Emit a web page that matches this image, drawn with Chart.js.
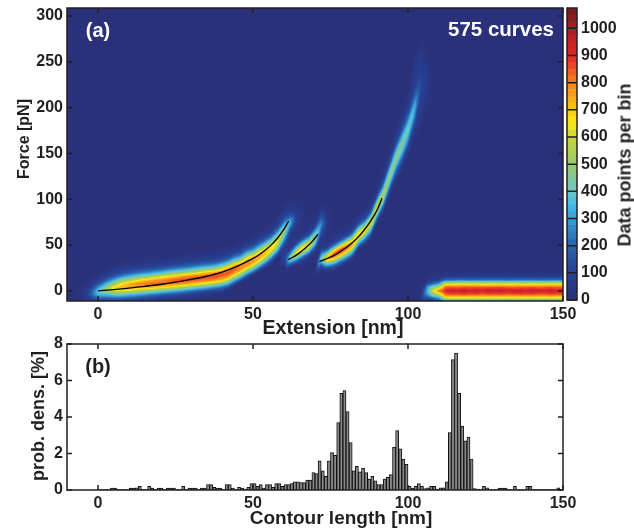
<!DOCTYPE html>
<html>
<head>
<meta charset="utf-8">
<title>Force extension</title>
<script src="https://cdn.jsdelivr.net/npm/chart.js@4"></script>
<style>
  html, body { margin: 0; padding: 0; background: #fff; }
  #wrap { position: relative; width: 634px; height: 529px; overflow: hidden; font-family: "Liberation Sans", Arial, sans-serif; }
  canvas { position: absolute; }
  .lbl { position: absolute; font-weight: bold; color: #231f20; white-space: nowrap; transform: translate(-50%, -50%); }
  .rot { transform: translate(-50%, -50%) rotate(-90deg); }
</style>
</head>
<body>
<div id="wrap">
  <canvas id="heat" width="634" height="335" style="left:0;top:0"></canvas>
  <canvas id="bar" width="74" height="320" style="left:560px;top:0"></canvas>
  <canvas id="hist" width="634" height="194" style="left:0;top:335px"></canvas>
  <div class="lbl" style="left:333px;top:327px;font-size:19.5px">Extension [nm]</div>
  <div class="lbl" style="left:341px;top:518px;font-size:19px">Contour length [nm]</div>
  <div class="lbl rot" style="left:24px;top:139px;font-size:16px">Force [pN]</div>
  <div class="lbl rot" style="left:38px;top:416px;font-size:18px">prob. dens. [%]</div>
  <div class="lbl rot" style="left:625px;top:165px;font-size:18px">Data points per bin</div>
  <div class="lbl" style="left:98px;top:30px;font-size:20px;color:#fff">(a)</div>
  <div class="lbl" style="left:501px;top:29px;font-size:20.5px;color:#fff">575 curves</div>
  <div class="lbl" style="left:98px;top:366px;font-size:20px">(b)</div>
</div>
<script>
// tick labels
const extTicks = [0, 50, 100, 150];
const forceTicks = [0, 50, 100, 150, 200, 250, 300];
const countTicks = [0, 100, 200, 300, 400, 500, 600, 700, 800, 900, 1000];
const contourTicks = [0, 50, 100, 150];
const densTicks = [0, 2, 4, 6, 8];

// black fit curves, [extension, force]
const fit1 = [[0,0],[5,1.5],[10,3],[15,5],[20,7],[25,9.5],[30,12.5],[35,16],[40,20.5],[45,27],[50,35.5],[52,39.5],[54,44.5],[56,50.5],[58,58],[60,67.5],[61.5,76]];
const fit2 = [[61.3,34],[63,37],[65,41.5],[67,47],[69,53.5],[71,62]];
const fit3 = [[71.4,32],[74,35.5],[76,38.5],[78,42.5],[80,47],[82,52.5],[84,59],[86,67],[88,76.5],[90,88],[91.6,101]];

// heat map counts: [extension, first force bin, counts going up in 4 pN bins]
const heatCols = [
  [-6,-8,20,30,30,20],
  [-4,-8,40,60,60,40,20],
  [-2,-12,40,120,200,180,100,60,30],
  [0,-12,70,200,340,370,270,140,80,40,25],
  [2,-12,70,180,350,490,420,270,150,80,45,25],
  [4,-12,80,200,370,570,590,420,240,130,70,40,25],
  [6,-12,80,210,400,620,700,560,360,190,100,60,30],
  [8,-12,70,190,390,620,740,660,460,270,140,80,45,25],
  [10,-12,60,170,360,600,750,720,540,320,170,100,60,30],
  [12,-12,50,150,330,570,750,770,600,380,210,110,60,35,20],
  [14,-12,45,130,300,540,750,800,660,430,240,130,70,40,20],
  [16,-12,40,110,260,510,740,820,700,480,270,140,80,45,25],
  [18,-12,35,100,230,470,720,830,750,530,300,160,90,50,30],
  [20,-12,30,80,200,430,690,830,780,570,340,180,100,55,30],
  [22,-12,30,70,170,390,660,820,810,630,390,210,110,60,35],
  [24,-12,25,60,150,350,620,810,840,680,440,240,130,70,40],
  [26,-12,20,50,130,310,580,790,860,720,480,270,140,80,45],
  [28,-12,20,40,110,270,530,770,870,770,530,300,160,90,50,25],
  [30,-8,30,80,230,480,730,870,800,580,340,180,100,55,30],
  [32,-8,30,70,190,430,690,850,830,630,390,210,110,60,35],
  [34,-4,55,160,380,650,830,850,680,440,240,130,70,40],
  [36,-4,45,130,330,610,810,860,720,480,270,140,80,45],
  [38,0,110,270,540,780,870,770,530,310,160,90,50,30],
  [40,0,90,220,470,720,840,830,640,390,210,110,60,35],
  [42,4,140,330,590,790,860,770,530,300,160,90,50,30],
  [44,8,150,350,600,790,840,720,480,270,140,80,45],
  [46,12,170,380,640,790,790,600,360,200,110,60,35],
  [48,16,160,370,620,770,790,640,400,220,120,65,35],
  [50,20,180,400,650,780,740,540,310,170,90,50,30],
  [52,24,170,380,620,750,740,560,330,180,100,55,30],
  [54,28,150,340,570,710,710,560,340,190,100,55,30],
  [56,32,110,250,470,640,680,560,360,200,110,60,35],
  [58,40,140,300,480,610,620,480,300,170,90,50,30],
  [60,32,80,120,100,90,100,190,300,410,500,470,340,200,120,80,60,40],
  [62,28,120,330,470,300,130,50,40,50,70,100,180,300,320,220,130,80,50,30],
  [64,28,60,180,400,650,560,300,130,60,40,40,50,70,90,90,70,50,35,25],
  [66,28,30,60,180,420,680,650,400,180,80,40,30,30,30,40,45,40,30,25],
  [68,36,60,170,400,640,600,380,180,80,40,30,30,30],
  [70,44,90,210,380,480,470,330,170,90,60,40,30],
  [72,24,60,160,340,430,280,130,70,60,80,100,150,210,260,230,160,110,70,45,30],
  [74,20,30,100,300,600,750,520,240,100,50,30,30,40,50,60,60,50,40,30,25],
  [76,24,80,220,480,760,850,620,300,130,60,40,30],
  [78,28,100,260,520,780,890,650,310,130,60,40,30],
  [80,32,110,280,530,770,850,620,300,130,60,40,30],
  [82,36,100,250,480,700,770,580,310,140,70,40,30],
  [84,48,150,340,560,730,640,380,180,90,50,30],
  [86,52,110,250,450,630,640,440,220,110,60,40],
  [88,60,110,250,440,600,620,450,240,120,70,40],
  [90,76,110,240,430,580,600,470,260,130,70,40],
  [92,88,100,200,340,480,540,470,340,210,120,70,40],
  [94,104,60,130,220,340,440,480,430,330,210,130,80,50,30],
  [96,120,50,100,170,260,360,440,470,420,320,220,140,90,60,40,30],
  [98,132,40,80,130,200,290,370,430,450,400,310,220,150,100,70,50,30],
  [100,148,40,70,120,180,260,330,380,410,380,310,230,170,120,90,60,40,30],
  [102,168,40,60,90,130,180,240,290,330,340,300,230,170,130,100,90,90,80,70,60,50,40,30],
  [104,180,30,40,50,60,70,80,90,100,110,110,120,120,110,110,100,100,90,90,80,70,60,50,40,30],
  [104,-8,20,30,30,30,20],
  [106,200,20,30,40,50,50,60,60,70,70,70,60,60,50,40,30,20],
  [106,-12,30,120,260,300,260,120,30],
  [108,-12,60,200,460,620,460,200,60,30,20],
  [110,-12,90,280,560,820,560,280,90,40,20],
  [112,-12,190,590,820,910,830,600,190,60,25],
  [114,-12,220,610,850,950,850,610,210,70,30],
  [116,-12,210,620,840,940,830,620,220,70,30],
  [118,-12,220,600,860,960,860,610,230,70,30],
  [120,-12,230,610,840,930,840,610,210,70,30],
  [122,-12,210,620,850,950,850,620,220,70,30],
  [124,-12,220,610,830,930,840,600,220,70,30],
  [126,-12,220,610,850,960,850,610,220,70,30],
  [128,-12,230,620,840,940,840,620,220,70,30],
  [130,-12,220,610,850,950,860,610,230,70,30],
  [132,-12,210,600,830,930,840,610,210,70,30],
  [134,-12,220,620,840,950,830,620,220,70,30],
  [136,-12,220,610,850,940,850,610,220,70,30],
  [138,-12,230,610,840,930,840,600,230,70,30],
  [140,-12,220,620,850,950,850,620,220,70,30],
  [142,-12,210,610,840,940,830,610,210,70,30],
  [144,-12,220,600,830,930,840,610,220,70,30],
  [146,-12,220,620,850,950,850,620,220,70,30],
  [148,-12,230,610,840,930,840,610,230,70,30],
  [150,-12,220,610,840,940,840,610,220,70,30]
];

// how far the ridge climbs at each heat column (-6 to 150 in steps of 2), keeps the shading running along it
const ridgeRise = [
  0,0,0,0,1,1,2,2,3,4,4.5,5.5,6,7,8,9,10,11,12,13.5,15,16.5,18,20,23,26,29,32,35,39,44,50,57,68,
  75,80,85,91,98,110,114,117,121,125,131,137,145,154,167,181,200,220,237,253,277,301,309,
  309,309,309,309,309,309,309,309,309,309,309,309,309,309,309,309,309,309,309,309,309
];

// histogram, one value per 1 nm bin from 0 to 150
const contourBins = [
  0.02,0.02,0.02,0.02,0.1,0.1,0.02,0.02,0.02,0.02,
  0.1,0.1,0.12,0.2,0.02,0.02,0.2,0.1,0.02,0.1,
  0.1,0.02,0.1,0.1,0.1,0.02,0.02,0.2,0.02,0.1,
  0.1,0.1,0.02,0.1,0.1,0.3,0.3,0.15,0.1,0.1,
  0.02,0.3,0.3,0.1,0.02,0.15,0.1,0.05,0.15,0.35,
  0.35,0.2,0.3,0.1,0.3,0.3,0.15,0.35,0.35,0.2,
  0.3,0.3,0.35,0.45,0.45,0.4,0.4,0.55,0.55,0.95,
  0.9,1.6,1.05,0.75,1.6,2.05,1.9,3.7,5.3,5.45,
  4.3,2.6,1.05,1.3,1.0,1.2,0.95,0.6,0.75,0.5,
  0.3,0.3,0.6,0.7,0.85,2.35,3.25,2.25,1.7,1.4,
  0.2,0.1,0.2,0.35,0.2,0.08,0.12,0.2,0.2,0.05,
  0.12,0.12,0.45,3.15,7.15,7.5,5.3,3.5,2.7,2.9,
  1.7,0.08,0.05,0.05,0.2,0.12,0.02,0.02,0.02,0.1,
  0.1,0.1,0.02,0.02,0.2,0.02,0.02,0.02,0.2,0.2,
  0.02,0.02,0.02,0.02,0.02,0.02,0.02,0.02,0.12,0.02
];

// colour bar stops
const mapValues = [0, 100, 200, 300, 350, 400, 500, 600, 650, 700, 800, 900, 1000, 1075];
const mapColors = ['#2a2f78','#273f92','#2a62ae','#3aa0d8','#45bde5','#6cc5c5','#9acb6a','#c8d63a','#f9ec18','#fbc815','#f58220','#e3262a','#a31f24','#6e1a1c'];

Chart.defaults.font.family = '"Liberation Sans", Arial, sans-serif';
Chart.defaults.font.weight = 'bold';
Chart.defaults.font.size = 16;
Chart.defaults.color = '#231f20';
Chart.defaults.animation = false;

const mapRgb = mapColors.map(c => [1, 3, 5].map(i => parseInt(c.substr(i, 2), 16)));
function colorFor(v) {
  let i = 0;
  while (i < mapValues.length - 2 && v > mapValues[i + 1]) i++;
  const t = Math.min(1, Math.max(0, (v - mapValues[i]) / (mapValues[i + 1] - mapValues[i])));
  return mapRgb[i].map((c, k) => Math.round(c + (mapRgb[i + 1][k] - c) * t));
}

// grid for the heat map, anything not read off stays at the background count
const BG = 8;
const gridX0 = -6, gridDx = 2, gridF0 = -12, gridDf = 4, gridCols = 79, gridRows = 80;
const grid = [];
for (let i = 0; i < gridCols; i++) grid.push(new Array(gridRows).fill(BG));
heatCols.forEach(col => {
  const c = (col[0] - gridX0) / gridDx;
  const r0 = (col[1] - gridF0) / gridDf;
  col.slice(2).forEach((v, k) => { grid[c][r0 + k] = v; });
});
function rowValue(c, f) {
  if (c < 0 || c >= gridCols) return BG;
  const r = (f - gridF0) / gridDf;
  const r0 = Math.floor(r), t = r - r0;
  const a = r0 >= 0 && r0 < gridRows ? grid[c][r0] : BG;
  const b = r0 + 1 >= 0 && r0 + 1 < gridRows ? grid[c][r0 + 1] : BG;
  return a * (1 - t) + b * t;
}

const heatPlugin = {
  id: 'heat',
  beforeDatasetsDraw(chart) {
    const { ctx, chartArea: a, scales } = chart;
    const w = Math.round(a.right - a.left), h = Math.round(a.bottom - a.top);
    const img = ctx.createImageData(w, h);
    for (let py = 0; py < h; py++) {
      const f = scales.y.getValueForPixel(a.top + py + 0.5);
      for (let px = 0; px < w; px++) {
        const c = (scales.x.getValueForPixel(a.left + px + 0.5) - gridX0) / gridDx;
        const c0 = Math.floor(c), t = c - c0;
        const s0 = ridgeRise[c0] || 0, s1 = ridgeRise[c0 + 1] === undefined ? s0 : ridgeRise[c0 + 1];
        const s = s0 * (1 - t) + s1 * t;
        const v = rowValue(c0, f - s + s0) * (1 - t) + rowValue(c0 + 1, f - s + s1) * t;
        const rgb = colorFor(v);
        const o = (py * w + px) * 4;
        img.data[o] = rgb[0]; img.data[o + 1] = rgb[1]; img.data[o + 2] = rgb[2]; img.data[o + 3] = 255;
      }
    }
    ctx.putImageData(img, a.left, a.top);
  }
};

// box round the plot with ticks pointing inwards
const framePlugin = {
  id: 'frame',
  afterDraw(chart) {
    const { ctx, chartArea: a, scales } = chart;
    ctx.save();
    ctx.strokeStyle = '#231f20';
    ctx.lineWidth = 1.5;
    ctx.strokeRect(a.left, a.top, a.right - a.left, a.bottom - a.top);
    ctx.beginPath();
    if (scales.x.type === 'linear') {
      scales.x.ticks.forEach(t => {
        const p = scales.x.getPixelForValue(t.value);
        ctx.moveTo(p, a.bottom); ctx.lineTo(p, a.bottom - 5);
        ctx.moveTo(p, a.top); ctx.lineTo(p, a.top + 5);
      });
    }
    scales.y.ticks.forEach(t => {
      const p = scales.y.getPixelForValue(t.value);
      ctx.moveTo(a.left, p); ctx.lineTo(a.left + 5, p);
      ctx.moveTo(a.right, p); ctx.lineTo(a.right - 5, p);
    });
    ctx.stroke();
    ctx.restore();
  }
};

function fixTicks(list) {
  return scale => { scale.ticks = list.map(v => ({ value: v })); };
}
function pinAxis(size) {
  return s => {
    if (s.isHorizontal()) s.height = size; else s.width = size;
    s.paddingTop = s.paddingBottom = s.paddingLeft = s.paddingRight = 0;
  };
}
function lineSet(points) {
  return {
    data: points.map(p => ({ x: p[0], y: p[1] })),
    showLine: true, borderColor: '#000', borderWidth: 1.3, pointRadius: 0,
    cubicInterpolationMode: 'monotone'
  };
}
const plainGrid = { display: false, drawTicks: false };
const plainTicks = { padding: 4, maxRotation: 0, autoSkip: false, callback: v => String(v) };

new Chart(document.getElementById('heat'), {
  type: 'scatter',
  data: { datasets: [lineSet(fit1), lineSet(fit2), lineSet(fit3)] },
  options: {
    responsive: false,
    layout: { padding: { top: 8, right: 71, left: 0, bottom: 0 } },
    plugins: { legend: { display: false }, tooltip: { enabled: false } },
    scales: {
      x: {
        type: 'linear', min: -10, max: 150,
        afterBuildTicks: fixTicks(extTicks), afterFit: pinAxis(34),
        grid: plainGrid, border: { display: false }, ticks: plainTicks
      },
      y: {
        min: -11, max: 308.6,
        afterBuildTicks: fixTicks(forceTicks), afterFit: pinAxis(67),
        grid: plainGrid, border: { display: false }, ticks: plainTicks
      }
    }
  },
  plugins: [heatPlugin, framePlugin]
});

// colour bar: one short stacked bar for each colour step
const barLevels = [];
for (let v = 0; v < 1075; v += 25) barLevels.push(v);
new Chart(document.getElementById('bar'), {
  type: 'bar',
  data: {
    labels: ['count'],
    datasets: barLevels.map(v => {
      const rgb = colorFor(v + 12);
      return { data: [25], backgroundColor: `rgb(${rgb[0]},${rgb[1]},${rgb[2]})`, borderWidth: 0, barPercentage: 1, categoryPercentage: 1 };
    })
  },
  options: {
    responsive: false,
    layout: { padding: { top: 8, left: 7, right: 0, bottom: 20 } },
    plugins: { legend: { display: false }, tooltip: { enabled: false } },
    scales: {
      x: { stacked: true, display: false },
      y: {
        position: 'right', stacked: true, min: 0, max: 1075,
        afterBuildTicks: fixTicks(countTicks), afterFit: pinAxis(57),
        grid: plainGrid, border: { display: false }, ticks: plainTicks
      }
    }
  },
  plugins: [framePlugin]
});

new Chart(document.getElementById('hist'), {
  type: 'bar',
  data: {
    datasets: [{
      data: contourBins.map((v, i) => ({ x: i + 0.5, y: v })),
      backgroundColor: '#8a8a8a', borderColor: '#111', borderWidth: 1,
      barPercentage: 1, categoryPercentage: 1
    }]
  },
  options: {
    responsive: false,
    layout: { padding: { top: 9, right: 71, left: 0, bottom: 0 } },
    plugins: { legend: { display: false }, tooltip: { enabled: false } },
    scales: {
      x: {
        type: 'linear', min: -10, max: 150, offset: false,
        afterBuildTicks: fixTicks(contourTicks), afterFit: pinAxis(39),
        grid: { display: false, drawTicks: false, offset: false }, border: { display: false }, ticks: plainTicks
      },
      y: {
        min: 0, max: 8,
        afterBuildTicks: fixTicks(densTicks), afterFit: pinAxis(67),
        grid: plainGrid, border: { display: false }, ticks: plainTicks
      }
    }
  },
  plugins: [framePlugin]
});
</script>
</body>
</html>
